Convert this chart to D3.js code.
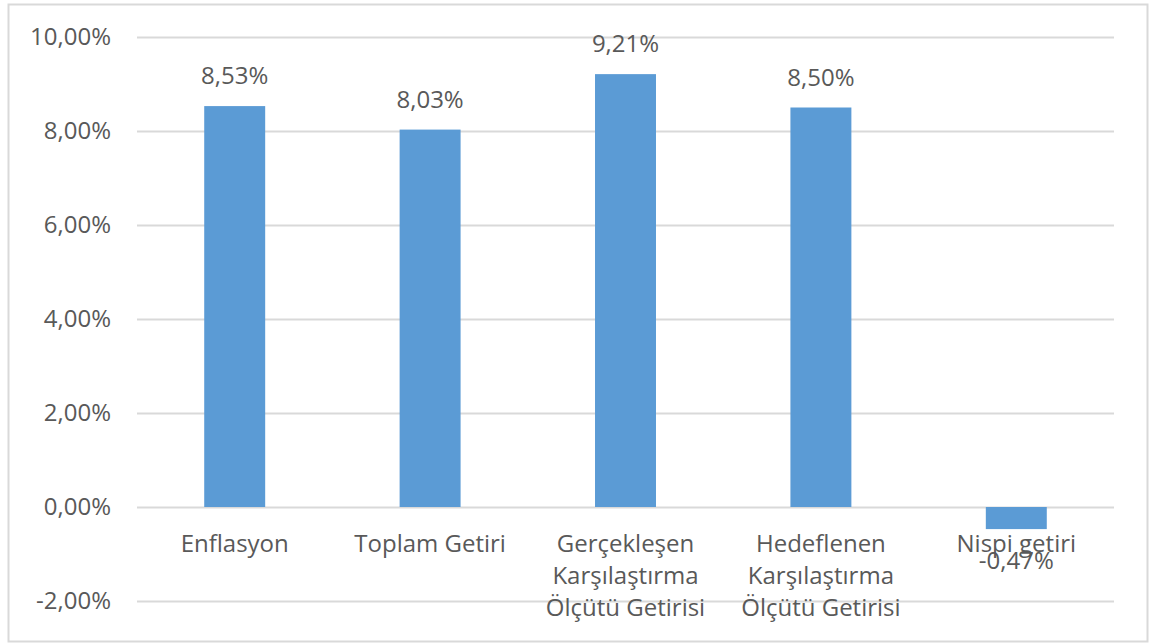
<!DOCTYPE html>
<html>
<head>
<meta charset="utf-8">
<script src="https://cdn.jsdelivr.net/npm/d3@7"></script>
<style>
  body { margin: 0; background: #fff; }
  text { font-family: "Open Sans", "Noto Sans", sans-serif; fill: #595959; }
</style>
</head>
<body>
<svg id="chart"></svg>
<script>
// data
const categories = [
  ['Enflasyon'],
  ['Toplam Getiri'],
  ['Gerçekleşen', 'Karşılaştırma', 'Ölçütü Getirisi'],
  ['Hedeflenen', 'Karşılaştırma', 'Ölçütü Getirisi'],
  ['Nispi getiri']
];
const values = [8.53, 8.03, 9.21, 8.50, -0.47];
const yTicks = [-2, 0, 2, 4, 6, 8, 10];

const W = 1154, H = 644;
const margin = { top: 37, right: 40, bottom: 43, left: 137 };
const width = W - margin.left - margin.right;
const height = H - margin.top - margin.bottom;
const fmt = (v) => v.toFixed(2).replace('.', ',') + '%';

const root = d3.select('#chart').attr('width', W).attr('height', H);

// outer frame
root.append('rect')
  .attr('x', 8.5).attr('y', 4.5)
  .attr('width', 1139).attr('height', 637)
  .attr('fill', '#fff')
  .attr('stroke', '#d9d9d9')
  .attr('stroke-width', 2);

const svg = root.append('g')
  .attr('transform', `translate(${margin.left},${margin.top})`);

const xScale = d3.scaleBand()
  .domain(d3.range(categories.length))
  .range([0, width])
  .paddingInner(0.688)
  .paddingOuter(0.344);

const yScale = d3.scaleLinear().domain([-2, 10]).range([height, 0]);

// grid
svg.append('g')
  .attr('class', 'grid')
  .call(d3.axisLeft(yScale).tickValues(yTicks).tickSize(-width).tickFormat(''))
  .call((g) => g.select('.domain').remove())
  .call((g) => g.selectAll('line').attr('stroke', '#d9d9d9').attr('stroke-width', 2));

// y axis labels
svg.append('g')
  .call(d3.axisLeft(yScale).tickValues(yTicks).tickSize(0).tickPadding(26).tickFormat(fmt))
  .call((g) => g.select('.domain').remove())
  .call((g) => g.selectAll('text')
    .style('font-size', '24px')
    .attr('fill', '#595959'));

// bars
svg.selectAll('.bar')
  .data(values)
  .enter()
  .append('rect')
  .attr('class', 'bar')
  .attr('x', (d, i) => xScale(i))
  .attr('width', xScale.bandwidth())
  .attr('y', (d) => yScale(Math.max(0, d)))
  .attr('height', (d) => Math.abs(yScale(d) - yScale(0)))
  .attr('fill', '#5b9bd5');

// value labels
svg.selectAll('.val')
  .data(values)
  .enter()
  .append('text')
  .attr('class', 'val')
  .attr('x', (d, i) => xScale(i) + xScale.bandwidth() / 2)
  .attr('y', (d) => d >= 0 ? yScale(d) - 22 : yScale(d) + 40)
  .attr('text-anchor', 'middle')
  .style('font-size', '24px')
  .text(fmt);

// category labels
const cat = svg.selectAll('.cat')
  .data(categories)
  .enter()
  .append('text')
  .attr('class', 'cat')
  .attr('text-anchor', 'middle')
  .attr('transform', (d, i) => `translate(${xScale(i) + xScale.bandwidth() / 2},${yScale(0) + 45})`)
  .style('font-size', '24px');

cat.selectAll('tspan')
  .data((d) => d)
  .enter()
  .append('tspan')
  .attr('x', 0)
  .attr('dy', (d, i) => i === 0 ? 0 : 32)
  .text((d) => d);
</script>
</body>
</html>
